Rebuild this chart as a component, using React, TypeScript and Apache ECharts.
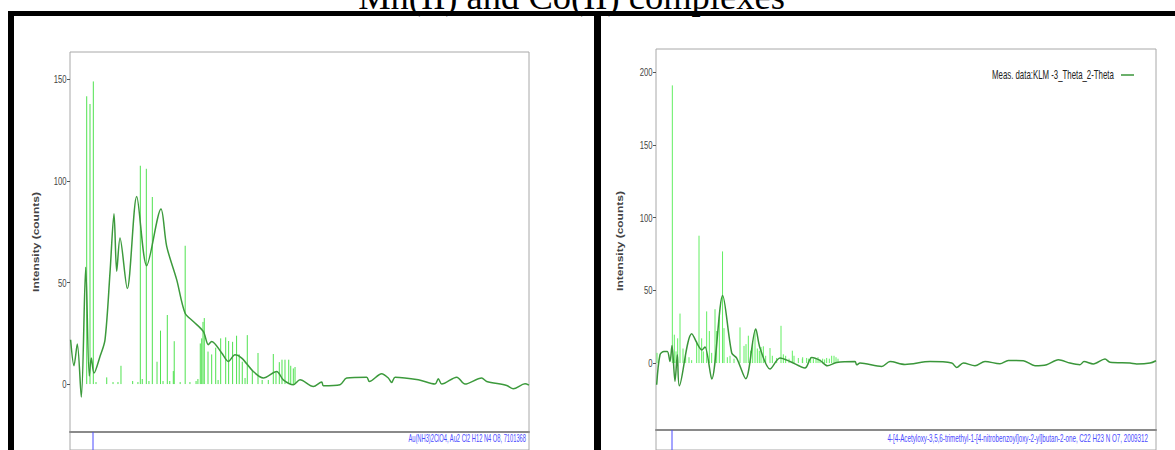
import React, { useEffect, useRef } from "react";
import * as echarts from "echarts";

// ---------- texts ----------
const TITLE = "Mn(II) and Co(II) complexes";
const Y_NAME = "Intensity (counts)";
const LEFT_REF = "Au(NH3)2ClO4, Au2 Cl2 H12 N4 O8, 7101368";
const RIGHT_REF =
  "4-[4-Acetyloxy-3,5,6-trimethyl-1-[4-nitrobenzoyl]oxy-2-yl]butan-2-one, C22 H23 N O7, 2009312";
const RIGHT_LEGEND = "Meas. data:KLM -3_Theta_2-Theta";

// ---------- axes ----------
const X_MIN = 5;
const X_MAX = 80;
const leftTicks = [0, 50, 100, 150];
const rightTicks = [0, 50, 100, 150, 200];
const leftYMin = -23.6;
const leftYMax = 163.5;
const rightYMin = -46;
const rightYMax = 215.8;

// ---------- left panel data ----------
const leftLineX = [5.1, 5.65, 6.19, 6.85, 7.57, 8.15, 8.48, 8.92, 9.9, 10.72, 11.54, 12.19, 12.63, 13.17, 14.36, 15.9, 17.53, 19.87, 20.8, 22.43, 23.79, 25.15, 26.78, 27.6, 28.15, 29.79, 30.87, 31.96, 33.06, 34.95, 36.59, 38.77, 39.85, 41.49, 42.58, 44.76, 46.13, 46.39, 49.12, 50.21, 53.48, 53.91, 55.93, 57.01, 57.57, 58.11, 61.91, 64.64, 65.18, 65.74, 68.19, 69.54, 72.27, 73.09, 76.36, 77.43, 79.35, 80];
const leftLineY = [21.8, 9, 19.7, -6.4, 57.5, 4, 12.8, 5.4, 13.6, 21.8, 55, 83.9, 55.5, 71.9, 47, 92.4, 58.3, 86.2, 67.8, 51.4, 35, 30.8, 25.9, 19.4, 21, 15.3, 11.1, 14.4, 12.8, 6.2, 3, 6.2, 2.1, -0.3, 2.1, -1.2, 1, -0.8, -0.3, 3, 3.4, 1.3, 5.1, 3, 0.8, 3.4, 2.1, 0, 2.6, 0, 3.4, 0, 3, 1.3, -0.7, -2.3, 0.1, -0.5];
const leftStickX = [7.73, 8.27, 8.81, 9.25, 11.0, 12.03, 12.84, 13.33, 15.24, 16.1, 16.49, 16.81, 17.47, 17.9, 18.45, 19.22, 19.79, 20.2, 20.9, 21.3, 21.88, 22.03, 23.0, 23.82, 24.6, 25.6, 25.9, 26.29, 26.52, 26.73, 26.94, 27.55, 28.15, 28.81, 29.2, 29.62, 30.44, 30.92, 31.57, 32.22, 32.65, 33.15, 33.6, 33.97, 34.79, 35.72, 36.4, 37.4, 38.22, 38.66, 39.2, 39.64, 40.13, 40.74, 41.07, 41.49, 41.77];
const leftStickY = [141.7, 137.9, 149, 1, 3.3, 1, 1, 9, 1.5, 1, 107.5, 2.5, 106, 1.5, 92.1, 11, 26.3, 1.5, 34, 1.5, 6.4, 21.1, 1, 68.1, 1, 1.5, 2.5, 20, 22.5, 30.6, 32.5, 16, 14.6, 17.9, 2, 22.5, 23, 21.2, 20.8, 23.8, 14.6, 11, 3, 24.1, 6.4, 15.3, 2, 2, 14.8, 6, 10.8, 12, 12, 12, 9, 7.7, 8.4];
const leftRefX = [8.76];

// ---------- right panel data ----------
const rightLineX = [5.1, 5.6, 6.2, 6.7, 7.1, 7.4, 7.85, 8.2, 8.5, 10.36, 11.9, 12.35, 13.36, 15.0, 16.36, 17.1, 18.46, 19.96, 20.6, 22.1, 23.6, 25.1, 27.35, 28.36, 29.6, 30.7, 32.1, 34.85, 35.1, 35.6, 38.86, 40.1, 42.35, 46.1, 49.36, 50.1, 51.1, 52.85, 54.35, 56.6, 57.85, 60.1, 61.85, 63.6, 65.35, 67.1, 68.6, 69.2, 70.6, 72.35, 73.1, 76.1, 77.1, 79.1, 80];
const rightLineY = [-14.9, 5.7, 8, 8, 1.1, 12, -12.6, 5.7, -15.6, 20.1, 9, 11, -11, 46.5, 6.9, 3.4, -10.8, 23.4, 10.3, -4.1, 3.4, 1.1, -3.4, 3.8, 1.8, -1.9, 0.4, 1.1, -1.2, 0, -2.3, 1, -1, 1, 0, -3, 0, -1.8, 1.1, -0.5, 1.8, 1.6, -1.8, -1.1, 2.3, 0, -1.1, 1, -0.6, 2.8, 0.5, 0, -0.6, 0, 1.6];
const rightStickX = [5.15, 7.45, 7.75, 8.0, 8.25, 8.6, 9.05, 9.45, 9.95, 10.35, 11.1, 11.45, 11.85, 12.1, 12.6, 13.0, 13.35, 13.85, 14.1, 14.5, 14.98, 15.2, 15.7, 16.1, 16.7, 17.6, 18.2, 18.5, 18.85, 19.2, 19.5, 19.85, 20.2, 20.5, 20.75, 21.1, 21.45, 22.1, 22.45, 23.1, 23.75, 24.1, 24.45, 24.95, 25.45, 25.7, 26.35, 26.95, 27.6, 28.6, 29.6, 30.6, 31.35, 31.7, 32.3, 27.0, 27.9, 28.2, 29.0, 29.3, 30.0, 30.3, 31.0, 32.0];
const rightStickY = [7, 190.8, 19.5, 8, 17, 34, 10, 5, 4, 2, 15, 87.5, 17, 8, 35.5, 22, 7, 37, 22, 32, 76.7, 24, 4, 5, 3, 24.5, 11.8, 13, 18.8, 8.5, 14, 22.9, 10, 8.5, 11, 11.5, 5, 10.3, 5, 3.5, 25.6, 6, 5, 3, 8.5, 5, 3.5, 3, 3.5, 3, 2.5, 3.5, 5, 5, 3, 4, 3, 4, 3, 4, 3, 2.5, 3, 4];
const rightRefX = [7.4];

// ---------- helpers ----------
const zip = (xs: number[], ys: number[]) => xs.map((x, i) => [x, ys[i]]);

const SANS = '"Liberation Sans", Arial, sans-serif';

function fitScale(text: string, font: string, target: number) {
  const c = document.createElement("canvas").getContext("2d");
  if (!c) return 1;
  c.font = font;
  const w = c.measureText(text).width;
  return w > 0 ? target / w : 1;
}

const stickRenderer = (color: string) => (params: any, api: any) => {
  const x = api.value(0);
  const h = api.value(1);
  const a = api.coord([x, 0]);
  const b = api.coord([x, h]);
  return {
    type: "line",
    shape: { x1: a[0], y1: a[1], x2: b[0], y2: b[1] },
    style: { stroke: color, lineWidth: 1 },
  };
};

const refRenderer = (color: string) => (params: any, api: any) => {
  const cs = params.coordSys;
  const p = api.coord([api.value(0), 0]);
  return {
    type: "line",
    shape: { x1: p[0], y1: cs.y, x2: p[0], y2: cs.y + cs.height },
    style: { stroke: color, lineWidth: 1 },
  };
};

// y tick labels, drawn through the axis scale, horizontally condensed like the reference
const tickLabelRenderer = (params: any, api: any) => {
  const v = api.value(1);
  const p = api.coord([api.value(0), v]);
  return {
    type: "text",
    x: p[0] - 3.5,
    y: p[1],
    scaleX: 0.7,
    style: {
      text: String(v),
      fontSize: 11,
      fontFamily: SANS,
      fill: "#444",
      align: "right",
      verticalAlign: "middle",
    },
  };
};

export default function App() {
  const ref = useRef<HTMLDivElement>(null);

  useEffect(() => {
    if (!ref.current) return;
    const chart = echarts.init(ref.current, undefined, { renderer: "svg" });

    const refFont = `10px ${SANS}`;
    const nameFont = `bold 8.5px ${SANS}`;
    const legendFont = `12px ${SANS}`;
    const leftRefScale = fitScale(LEFT_REF, refFont, 118);
    const rightRefScale = fitScale(RIGHT_REF, refFont, 261);
    const nameScale = fitScale(Y_NAME, nameFont, 100);
    const legendScale = fitScale(RIGHT_LEGEND, legendFont, 122);

    const mainX = (gridIndex: number) => ({
      type: "value",
      gridIndex,
      min: X_MIN,
      max: X_MAX,
      axisLine: { show: true, onZero: false, lineStyle: { color: "#8a8a8a", width: 2 } },
      axisTick: { show: false },
      axisLabel: { show: false },
      splitLine: { show: false },
    });
    const subX = (gridIndex: number) => ({
      type: "value",
      gridIndex,
      min: X_MIN,
      max: X_MAX,
      show: false,
    });
    const mainY = (gridIndex: number, min: number, max: number, ticks: number[]) => ({
      type: "value",
      gridIndex,
      min,
      max,
      axisLine: { show: false },
      axisTick: { show: true, customValues: ticks, length: 3, lineStyle: { color: "#555" } },
      axisLabel: { show: false },
      splitLine: { show: false },
    });
    const subY = (gridIndex: number) => ({ type: "value", gridIndex, min: 0, max: 1, show: false });

    chart.setOption({
      animation: false,
      backgroundColor: "#ffffff",
      grid: [
        { left: 70, top: 52, width: 459, height: 380, show: true, borderColor: "#a8a8a8", borderWidth: 1 },
        { left: 70, top: 432, width: 459, height: 30, show: true, borderColor: "#a8a8a8", borderWidth: 1 },
        { left: 656, top: 49, width: 500, height: 381, show: true, borderColor: "#a8a8a8", borderWidth: 1 },
        { left: 656, top: 430, width: 500, height: 30, show: true, borderColor: "#a8a8a8", borderWidth: 1 },
      ],
      xAxis: [mainX(0), subX(1), mainX(2), subX(3)],
      yAxis: [
        mainY(0, leftYMin, leftYMax, leftTicks),
        subY(1),
        mainY(2, rightYMin, rightYMax, rightTicks),
        subY(3),
      ],
      series: [
        {
          type: "custom",
          name: "left-ref-pattern",
          xAxisIndex: 0,
          yAxisIndex: 0,
          data: zip(leftStickX, leftStickY),
          renderItem: stickRenderer("#4fe24f"),
          z: 1,
          silent: true,
        },
        {
          type: "line",
          name: "left-measured",
          xAxisIndex: 0,
          yAxisIndex: 0,
          data: zip(leftLineX, leftLineY),
          smooth: 0.3,
          symbol: "none",
          lineStyle: { color: "#3c9a3c", width: 1.5 },
          z: 2,
        },
        {
          type: "custom",
          name: "left-y-labels",
          xAxisIndex: 0,
          yAxisIndex: 0,
          clip: false,
          silent: true,
          data: leftTicks.map((v) => [X_MIN, v]),
          renderItem: tickLabelRenderer,
        },
        {
          type: "custom",
          name: "left-ref-marker",
          xAxisIndex: 1,
          yAxisIndex: 1,
          data: leftRefX.map((x) => [x, 0]),
          renderItem: refRenderer("#4a4aff"),
        },
        {
          type: "custom",
          name: "right-ref-pattern",
          xAxisIndex: 2,
          yAxisIndex: 2,
          data: zip(rightStickX, rightStickY),
          renderItem: stickRenderer("#62ee62"),
          z: 1,
          silent: true,
        },
        {
          type: "line",
          name: RIGHT_LEGEND,
          xAxisIndex: 2,
          yAxisIndex: 2,
          data: zip(rightLineX, rightLineY),
          smooth: 0.3,
          symbol: "none",
          color: "#3a963a",
          lineStyle: { color: "#3a963a", width: 1.5 },
          z: 2,
        },
        {
          type: "custom",
          name: "right-y-labels",
          xAxisIndex: 2,
          yAxisIndex: 2,
          clip: false,
          silent: true,
          data: rightTicks.map((v) => [X_MIN, v]),
          renderItem: tickLabelRenderer,
        },
        {
          type: "custom",
          name: "right-ref-marker",
          xAxisIndex: 3,
          yAxisIndex: 3,
          data: rightRefX.map((x) => [x, 0]),
          renderItem: refRenderer("#4a4aff"),
        },
      ],
      graphic: [
        {
          type: "text",
          x: 571.5,
          y: -3.5,
          z: 1,
          style: {
            text: TITLE,
            fontSize: 36.5,
            fontFamily: '"Liberation Serif", "Times New Roman", serif',
            fill: "#000",
            align: "center",
            verticalAlign: "middle",
          },
        },
        { type: "rect", z: 10, shape: { x: 8, y: 11, width: 1167, height: 5 }, style: { fill: "#000" } },
        { type: "rect", z: 10, shape: { x: 8, y: 11, width: 6, height: 439 }, style: { fill: "#000" } },
        { type: "rect", z: 10, shape: { x: 594, y: 11, width: 7, height: 439 }, style: { fill: "#000" } },
        {
          type: "text",
          x: 36,
          y: 242,
          rotation: Math.PI / 2,
          scaleX: nameScale,
          style: { text: Y_NAME, font: nameFont, fill: "#444", align: "center", verticalAlign: "middle" },
        },
        {
          type: "text",
          x: 620,
          y: 241,
          rotation: Math.PI / 2,
          scaleX: nameScale,
          style: { text: Y_NAME, font: nameFont, fill: "#444", align: "center", verticalAlign: "middle" },
        },
        {
          type: "text",
          x: 992,
          y: 75,
          scaleX: legendScale,
          style: { text: RIGHT_LEGEND, font: legendFont, fill: "#222", align: "left", verticalAlign: "middle" },
        },
        {
          type: "line",
          shape: { x1: 1121, y1: 75, x2: 1134, y2: 75 },
          style: { stroke: "#3a963a", lineWidth: 1.5 },
        },
        {
          type: "text",
          x: 526,
          y: 439,
          scaleX: leftRefScale,
          style: { text: LEFT_REF, font: refFont, fill: "#4a4aff", align: "right", verticalAlign: "middle" },
        },
        {
          type: "text",
          x: 1148,
          y: 438,
          scaleX: rightRefScale,
          style: { text: RIGHT_REF, font: refFont, fill: "#4a4aff", align: "right", verticalAlign: "middle" },
        },
      ],
    });

    return () => chart.dispose();
  }, []);

  return (
    <div
      ref={ref}
      style={{ position: "fixed", left: 0, top: 0, width: 1175, height: 450, background: "#fff" }}
    />
  );
}
